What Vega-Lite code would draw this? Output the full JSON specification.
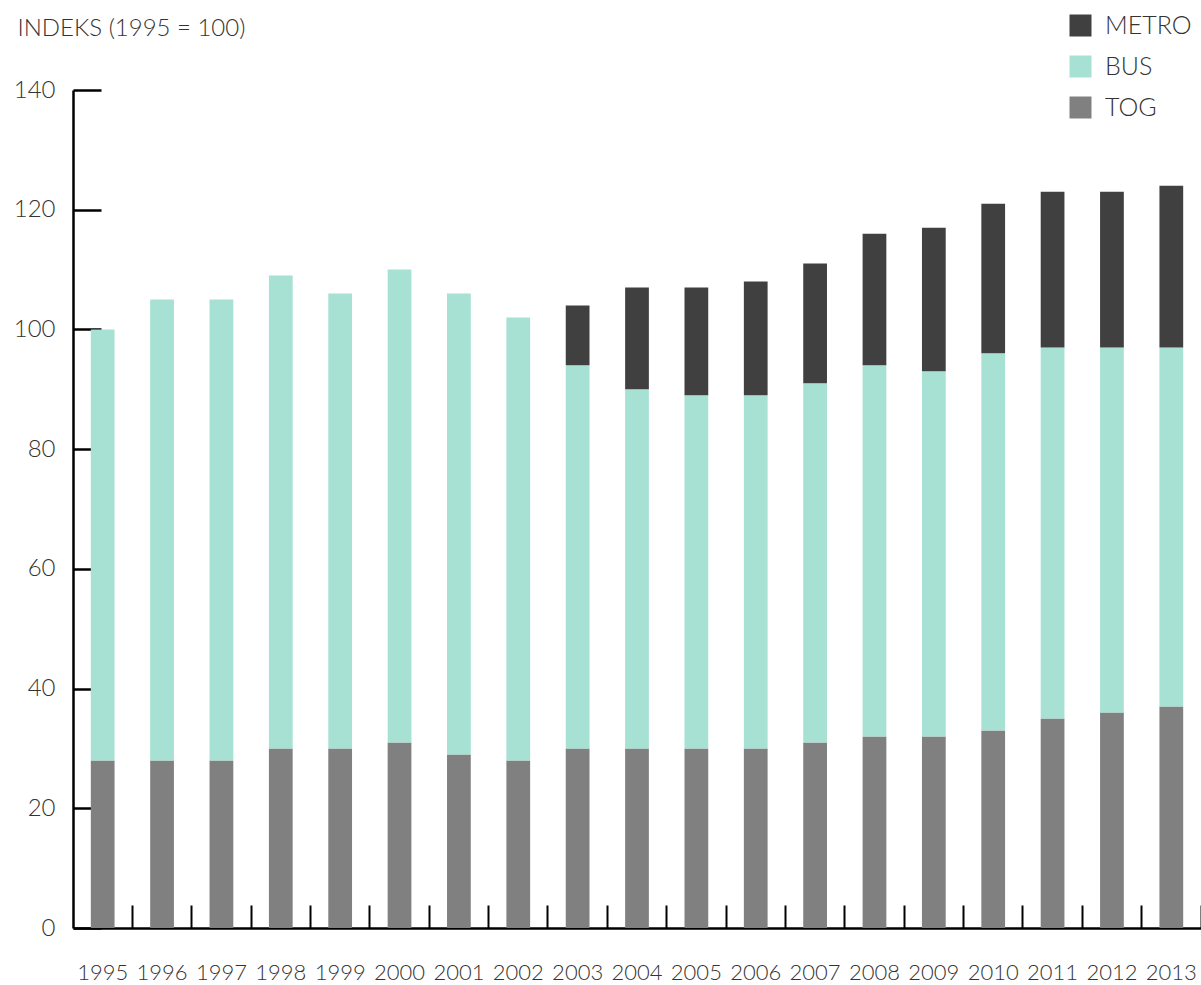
{
  "$schema": "https://vega.github.io/schema/vega-lite/v6.json",
  "autosize": "none",
  "width": 1128,
  "height": 838,
  "padding": {"left": 73, "top": 90, "right": 0, "bottom": 57},
  "background": "white",
  "config": {
    "view": {"stroke": null},
    "font": "Lato",
    "axis": {"labelFont": "Lato", "titleFont": "Lato"}
  },
  "data": {
    "values": [
      {"year": "1995", "type": "TOG", "value": 28, "k": 1}, {"year": "1995", "type": "BUS", "value": 72, "k": 2},
      {"year": "1996", "type": "TOG", "value": 28, "k": 1}, {"year": "1996", "type": "BUS", "value": 77, "k": 2},
      {"year": "1997", "type": "TOG", "value": 28, "k": 1}, {"year": "1997", "type": "BUS", "value": 77, "k": 2},
      {"year": "1998", "type": "TOG", "value": 30, "k": 1}, {"year": "1998", "type": "BUS", "value": 79, "k": 2},
      {"year": "1999", "type": "TOG", "value": 30, "k": 1}, {"year": "1999", "type": "BUS", "value": 76, "k": 2},
      {"year": "2000", "type": "TOG", "value": 31, "k": 1}, {"year": "2000", "type": "BUS", "value": 79, "k": 2},
      {"year": "2001", "type": "TOG", "value": 29, "k": 1}, {"year": "2001", "type": "BUS", "value": 77, "k": 2},
      {"year": "2002", "type": "TOG", "value": 28, "k": 1}, {"year": "2002", "type": "BUS", "value": 74, "k": 2},
      {"year": "2003", "type": "TOG", "value": 30, "k": 1}, {"year": "2003", "type": "BUS", "value": 64, "k": 2}, {"year": "2003", "type": "METRO", "value": 10, "k": 3},
      {"year": "2004", "type": "TOG", "value": 30, "k": 1}, {"year": "2004", "type": "BUS", "value": 60, "k": 2}, {"year": "2004", "type": "METRO", "value": 17, "k": 3},
      {"year": "2005", "type": "TOG", "value": 30, "k": 1}, {"year": "2005", "type": "BUS", "value": 59, "k": 2}, {"year": "2005", "type": "METRO", "value": 18, "k": 3},
      {"year": "2006", "type": "TOG", "value": 30, "k": 1}, {"year": "2006", "type": "BUS", "value": 59, "k": 2}, {"year": "2006", "type": "METRO", "value": 19, "k": 3},
      {"year": "2007", "type": "TOG", "value": 31, "k": 1}, {"year": "2007", "type": "BUS", "value": 60, "k": 2}, {"year": "2007", "type": "METRO", "value": 20, "k": 3},
      {"year": "2008", "type": "TOG", "value": 32, "k": 1}, {"year": "2008", "type": "BUS", "value": 62, "k": 2}, {"year": "2008", "type": "METRO", "value": 22, "k": 3},
      {"year": "2009", "type": "TOG", "value": 32, "k": 1}, {"year": "2009", "type": "BUS", "value": 61, "k": 2}, {"year": "2009", "type": "METRO", "value": 24, "k": 3},
      {"year": "2010", "type": "TOG", "value": 33, "k": 1}, {"year": "2010", "type": "BUS", "value": 63, "k": 2}, {"year": "2010", "type": "METRO", "value": 25, "k": 3},
      {"year": "2011", "type": "TOG", "value": 35, "k": 1}, {"year": "2011", "type": "BUS", "value": 62, "k": 2}, {"year": "2011", "type": "METRO", "value": 26, "k": 3},
      {"year": "2012", "type": "TOG", "value": 36, "k": 1}, {"year": "2012", "type": "BUS", "value": 61, "k": 2}, {"year": "2012", "type": "METRO", "value": 26, "k": 3},
      {"year": "2013", "type": "TOG", "value": 37, "k": 1}, {"year": "2013", "type": "BUS", "value": 60, "k": 2}, {"year": "2013", "type": "METRO", "value": 27, "k": 3}
    ]
  },
  "mark": {"type": "bar"},
  "encoding": {
    "x": {
      "field": "year",
      "type": "ordinal",
      "scale": {"paddingInner": 0.6, "paddingOuter": 0.3},
      "axis": {
        "title": null,
        "labelAngle": 0,
        "labelFontSize": 22,
        "labelFontWeight": 300,
        "labelColor": "#333333",
        "labelPadding": 57,
        "bandPosition": 1.75,
        "tickSize": -23,
        "tickWidth": 2,
        "tickColor": "#000000",
        "domainColor": "#000000",
        "domainWidth": 2.5,
        "labelOverlap": false,
        "zindex": 0
      }
    },
    "y": {
      "field": "value",
      "type": "quantitative",
      "stack": "zero",
      "scale": {"domain": [0, 140], "nice": false},
      "axis": {
        "title": "INDEKS (1995 = 100)",
        "titleAngle": 0,
        "titleX": -56,
        "titleY": -62,
        "titleAlign": "left",
        "titleBaseline": "middle",
        "titleFontSize": 24,
        "titleFontWeight": 300,
        "titleColor": "#333333",
        "values": [0, 20, 40, 60, 80, 100, 120, 140],
        "labelFontSize": 24,
        "labelFontWeight": 300,
        "labelColor": "#333333",
        "labelPadding": 46,
        "tickSize": -28,
        "tickWidth": 2.5,
        "tickColor": "#000000",
        "domainColor": "#000000",
        "domainWidth": 2.5,
        "grid": false,
        "zindex": 0
      }
    },
    "color": {
      "field": "type",
      "type": "nominal",
      "scale": {"domain": ["METRO", "BUS", "TOG"], "range": ["#404040", "#a6e1d3", "#808080"]},
      "legend": {
        "title": null,
        "orient": "none",
        "legendX": 995,
        "legendY": -77,
        "symbolType": "square",
        "symbolSize": 484,
        "symbolStrokeWidth": 0,
        "labelFontSize": 25,
        "labelFontWeight": 300,
        "labelColor": "#333333",
        "labelOffset": 12,
        "rowPadding": 15,
        "encode": {
          "symbols": {
            "update": {
              "fill": {"signal": "datum.value === 'METRO' ? '#000000' : datum.value === 'BUS' ? '#96dcc8' : '#666666'"},
              "opacity": {"value": 1}
            }
          }
        }
      }
    },
    "order": {"field": "k", "type": "quantitative", "sort": "ascending"}
  }
}
